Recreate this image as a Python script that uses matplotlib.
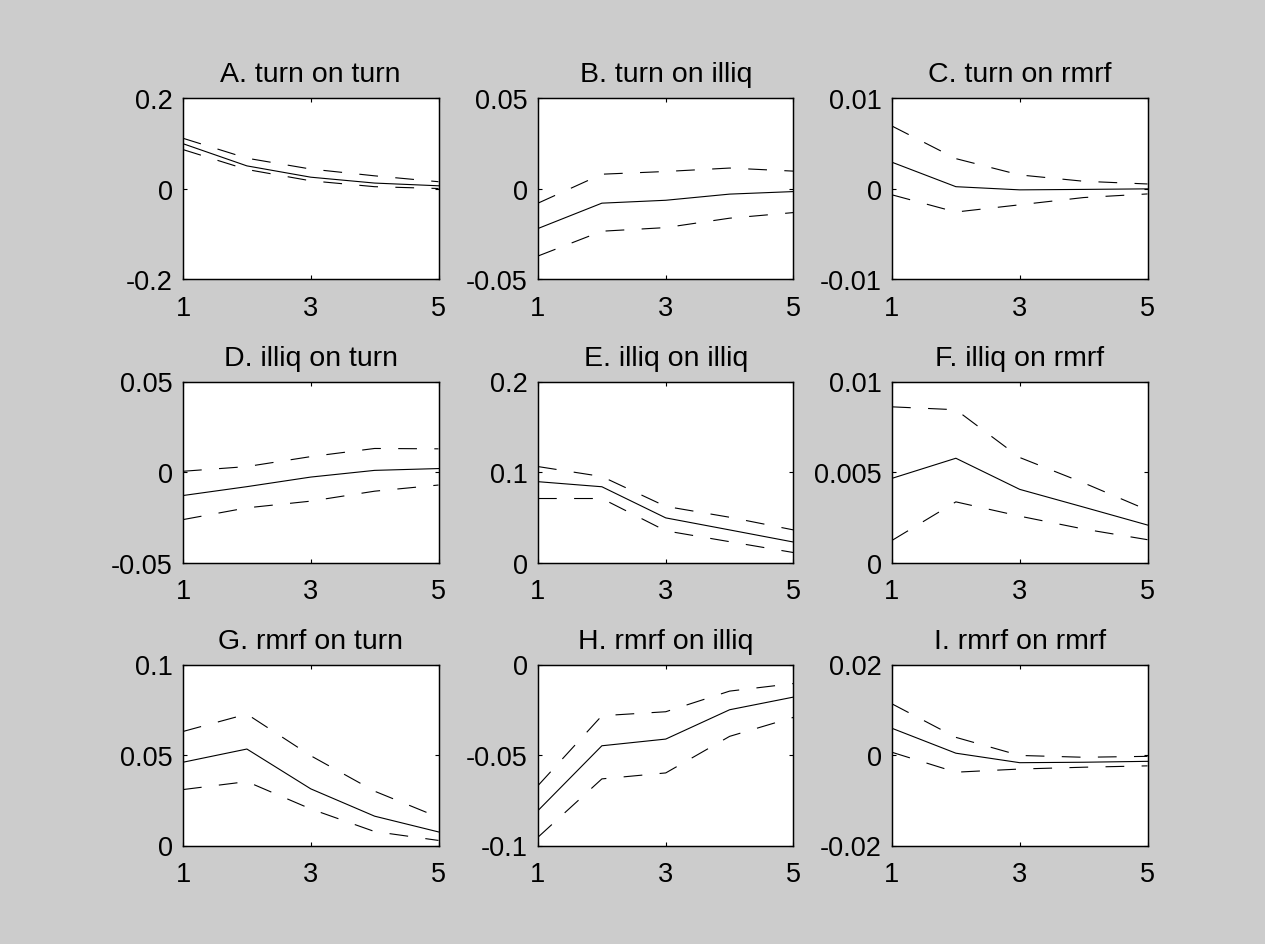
import matplotlib.pyplot as plt

plt.rcParams['font.family'] = ['Liberation Sans', 'DejaVu Sans']
plt.rcParams['lines.scale_dashes'] = False

horizon = [1, 2, 3, 4, 5]

titles = ["A. turn on turn", "B. turn on illiq", "C. turn on rmrf",
          "D. illiq on turn", "E. illiq on illiq", "F. illiq on rmrf",
          "G. rmrf on turn", "H. rmrf on illiq", "I. rmrf on rmrf"]

# impulse responses (point estimate) and upper / lower bands
irf_a = [0.099, 0.050, 0.025, 0.012, 0.006]
up_a = [0.111, 0.067, 0.043, 0.028, 0.015]
lo_a = [0.086, 0.042, 0.017, 0.004, 0.000]

irf_b = [-0.0221, -0.0081, -0.0065, -0.0031, -0.0017]
up_b = [-0.0081, 0.0079, 0.0094, 0.0113, 0.0096]
lo_b = [-0.0373, -0.0236, -0.0216, -0.0164, -0.0133]

irf_c = [0.0029, 0.0002, -0.00015, -0.0001, -0.00004]
up_c = [0.0069, 0.0033, 0.0015, 0.0008, 0.0005]
lo_c = [-0.0007, -0.0026, -0.0018, -0.0010, -0.0006]

irf_d = [-0.0130, -0.0081, -0.0028, 0.0009, 0.0019]
up_d = [0.0004, 0.0030, 0.0085, 0.0130, 0.0128]
lo_d = [-0.0263, -0.0198, -0.0161, -0.0106, -0.0072]

irf_e = [0.0893, 0.0837, 0.0493, 0.0360, 0.0226]
up_e = [0.106, 0.095, 0.062, 0.050, 0.036]
lo_e = [0.0707, 0.0707, 0.035, 0.023, 0.011]

irf_f = [0.00465, 0.00576, 0.00404, 0.00306, 0.00207]
up_f = [0.0086, 0.00844, 0.0058, 0.0044, 0.0029]
lo_f = [0.00122, 0.00335, 0.00256, 0.00185, 0.00126]

irf_g = [0.0460, 0.0533, 0.0313, 0.0162, 0.0075]
up_g = [0.0630, 0.0726, 0.0496, 0.0300, 0.0156]
lo_g = [0.0309, 0.0353, 0.0202, 0.0077, 0.0028]

irf_h = [-0.0807, -0.0449, -0.0412, -0.0250, -0.0180]
up_h = [-0.0669, -0.0283, -0.0261, -0.0147, -0.0105]
lo_h = [-0.0954, -0.0632, -0.0599, -0.0397, -0.0292]

irf_i = [0.0059, 0.0004, -0.0017, -0.0016, -0.0014]
up_i = [0.0113, 0.0039, -0.0001, -0.0005, -0.0003]
lo_i = [0.0006, -0.0038, -0.0031, -0.0027, -0.0024]

irfs = [irf_a, irf_b, irf_c, irf_d, irf_e, irf_f, irf_g, irf_h, irf_i]
uppers = [up_a, up_b, up_c, up_d, up_e, up_f, up_g, up_h, up_i]
lowers = [lo_a, lo_b, lo_c, lo_d, lo_e, lo_f, lo_g, lo_h, lo_i]

yticks = [[-0.2, 0, 0.2], [-0.05, 0, 0.05], [-0.01, 0, 0.01],
          [-0.05, 0, 0.05], [0, 0.1, 0.2], [0, 0.005, 0.01],
          [0, 0.05, 0.1], [-0.1, -0.05, 0], [-0.02, 0, 0.02]]
ytick_labels = [["-0.2", "0", "0.2"], ["-0.05", "0", "0.05"], ["-0.01", "0", "0.01"],
                ["-0.05", "0", "0.05"], ["0", "0.1", "0.2"], ["0", "0.005", "0.01"],
                ["0", "0.05", "0.1"], ["-0.1", "-0.05", "0"], ["-0.02", "0", "0.02"]]
xticks = [1, 3, 5]

W, H = 1265, 945
fig = plt.figure(figsize=(W / 100, H / 100), dpi=100, facecolor='#cccccc')

lefts = [183, 538, 892]
tops = [99, 382.5, 665.5]
aw, ah = 255.5, 181

for k in range(9):
    r, c = divmod(k, 3)
    ax = fig.add_axes([lefts[c] / W, 1 - (tops[r] + ah) / H, aw / W, ah / H])
    ax.plot(horizon, irfs[k], color='black', lw=0.8)
    ax.plot(horizon, uppers[k], color='black', lw=0.8, dashes=(13.5, 12.5))
    ax.plot(horizon, lowers[k], color='black', lw=0.8, dashes=(13.5, 12.5))
    ax.set_xlim(1, 5)
    ax.set_ylim(yticks[k][0], yticks[k][-1])
    ax.set_xticks(xticks)
    ax.set_xticklabels([str(x) for x in xticks])
    ax.set_yticks(yticks[k])
    ax.set_yticklabels(ytick_labels[k])
    ax.tick_params(direction='in', length=3, width=0.8, labelsize=19.5,
                   top=True, right=True)
    ax.tick_params(axis='y', pad=7.5)
    ax.tick_params(axis='x', pad=11.5)
    for s in ax.spines.values():
        s.set_linewidth(1.05)
    ax.set_title(titles[k], fontsize=20.5, pad=12)

fig.savefig('out.png', dpi=100, facecolor=fig.get_facecolor())
